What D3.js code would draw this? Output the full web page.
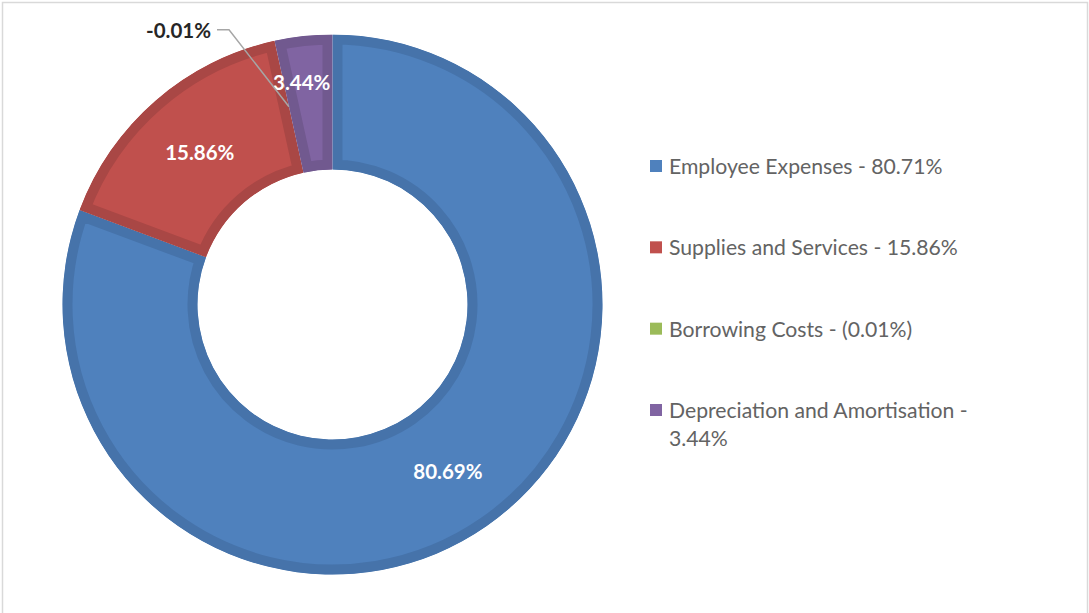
<!DOCTYPE html>
<html>
<head>
<meta charset="utf-8">
<script src="https://cdn.jsdelivr.net/npm/d3@7"></script>
<style>
  html, body { margin: 0; padding: 0; background: #fff; }
  svg { display: block; }
</style>
</head>
<body>
<svg id="chart" width="1089" height="613"></svg>
<script>
// Expense composition (share of total expenses)
const categories = ["Employee Expenses", "Supplies and Services", "Borrowing Costs", "Depreciation and Amortisation"];
const sliceValues = [80.69, 15.86, -0.01, 3.44];          // values shown on the ring
const legendLabels = ["Employee Expenses - 80.71%", "Supplies and Services - 15.86%", "Borrowing Costs - (0.01%)", "Depreciation and Amortisation - 3.44%"];
const fillColors = ["#4F81BD", "#C0504D", "#9BBB59", "#8064A2"];
const edgeColors = ["#4673AA", "#A94745", "#87A34C", "#71598F"];

const svg = d3.select("#chart");
const W = 1089, H = 613;

// outer frame
svg.append("rect")
  .attr("x", 2.5).attr("y", 2.5)
  .attr("width", W - 4).attr("height", H + 10)
  .attr("fill", "#fff").attr("stroke", "#d9d9d9").attr("stroke-width", 1.5);

const cx = 332.5, cy = 304.5;
const outerR = 270, innerR = 135;

const pie = d3.pie().sort(null).value(d => Math.abs(d.v));
const data = categories.map((c, i) => ({ c, v: sliceValues[i], i }));
const arcs = pie(data);

const arc = d3.arc().innerRadius(innerR).outerRadius(outerR);
const labelArc = d3.arc().innerRadius((innerR + outerR) / 2).outerRadius((innerR + outerR) / 2);

const g = svg.append("g").attr("transform", `translate(${cx},${cy})`);
const defs = svg.append("defs");

arcs.forEach((a, k) => {
  const id = "clip" + k;
  defs.append("clipPath").attr("id", id).append("path").attr("d", arc(a));
  g.append("path")
    .attr("d", arc(a))
    .attr("fill", fillColors[a.data.i])
    .attr("stroke", edgeColors[a.data.i])
    .attr("stroke-width", a.endAngle - a.startAngle > 0.01 ? 20 : 0)
    .attr("stroke-linejoin", "miter")
    .attr("clip-path", `url(#${id})`);
});

const labelFont = "Lato, 'Open Sans', sans-serif";
const fmt = v => (v < 0 ? "-" : "") + Math.abs(v).toFixed(2) + "%";

// inside labels
const insideOffsets = [[0, 0], [0, 0], null, [-9, -21]];
arcs.forEach(a => {
  const off = insideOffsets[a.data.i];
  if (!off) return;
  const [x, y] = labelArc.centroid(a);
  g.append("text")
    .attr("x", x + off[0]).attr("y", y + off[1])
    .attr("text-anchor", "middle").attr("dominant-baseline", "central")
    .attr("font-family", labelFont).attr("font-weight", 700).attr("font-size", 20.5)
    .attr("fill", "#fff")
    .text(fmt(a.data.v));
});

// callout for the near-zero slice
const tiny = arcs[2];
const [tx, ty] = labelArc.centroid(tiny);
const elbow = [tx - 60, ty - 77];
const end = [elbow[0] - 12, elbow[1]];
g.append("polyline")
  .attr("points", [[tx, ty], elbow, end].map(p => p.join(",")).join(" "))
  .attr("fill", "none").attr("stroke", "#a6a6a6").attr("stroke-width", 1.5);
g.append("text")
  .attr("x", end[0] - 6).attr("y", end[1])
  .attr("text-anchor", "end").attr("dominant-baseline", "central")
  .attr("font-family", labelFont).attr("font-weight", 700).attr("font-size", 20.5)
  .attr("fill", "#262626")
  .text(fmt(tiny.data.v));

// legend
const legY = d3.scalePoint().domain(categories).range([166, 410]);
const legend = svg.append("g");
categories.forEach((c, i) => {
  const y = legY(c);
  legend.append("rect")
    .attr("x", 650).attr("y", y - 6).attr("width", 12).attr("height", 12)
    .attr("fill", fillColors[i]);
  const t = legend.append("text")
    .attr("x", 669).attr("y", y)
    .attr("dominant-baseline", "central")
    .attr("font-family", labelFont).attr("font-size", 21.2)
    .attr("fill", "#636363");
  const lbl = legendLabels[i];
  if (i === 3) {
    const cut = lbl.lastIndexOf(" ");
    t.append("tspan").attr("x", 669).text(lbl.slice(0, cut));
    t.append("tspan").attr("x", 669).attr("dy", 28).text(lbl.slice(cut + 1));
  } else {
    t.text(lbl);
  }
});
</script>
</body>
</html>
